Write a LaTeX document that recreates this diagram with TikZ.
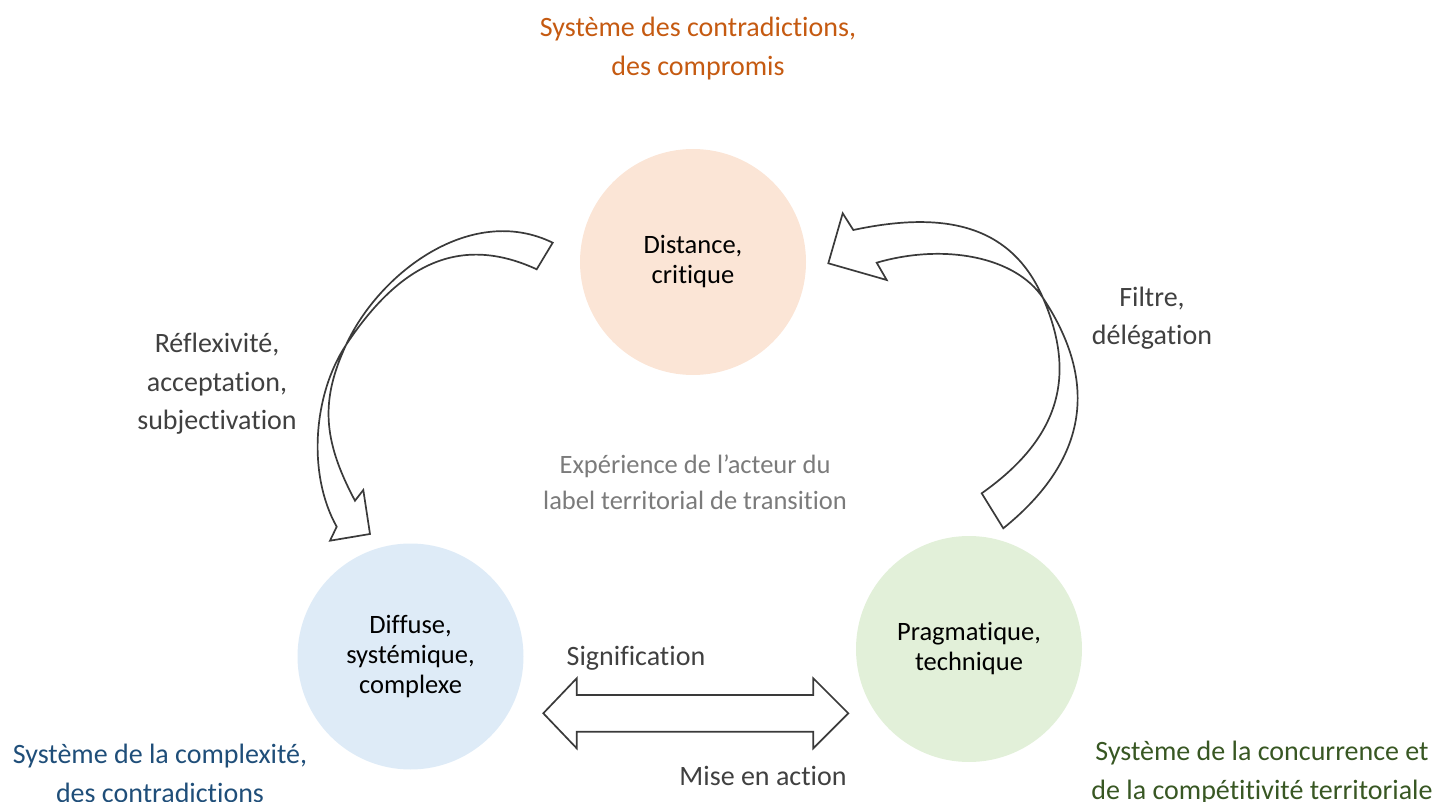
\documentclass[tikz,border=0pt]{standalone}
\usepackage{fontspec}
\setmainfont{Carlito}[Ligatures=NoCommon]
\definecolor{fillorange}{HTML}{FBE5D6}
\definecolor{fillblue}{HTML}{DEEBF7}
\definecolor{fillgreen}{HTML}{E2F0D9}
\definecolor{txtorange}{HTML}{C55A11}
\definecolor{txtblue}{HTML}{1F4E79}
\definecolor{txtgreen}{HTML}{385723}
\definecolor{txtgray}{HTML}{7B7B7B}
\definecolor{txtdark}{HTML}{404040}
\definecolor{linegray}{HTML}{3A3A3A}
\begin{document}
\begin{tikzpicture}[x=1pt,y=-1pt,
  sysbox/.style={align=center, inner sep=0, font=\fontsize{28}{39}\selectfont},
  lbl/.style={align=center, inner sep=0, text=txtdark, font=\fontsize{28}{38.5}\selectfont},
  disc/.style={circle, inner sep=0, minimum size=226pt, align=center, text=black, font=\fontsize{26.5}{30}\selectfont},
  blockarrow/.style={draw=linegray, line width=1.7pt, fill=white, line join=miter}]
\useasboundingbox (0,0) rectangle (1438,802);

% circles
\node[disc, fill=fillorange] (dist) at (693,262) {Distance,\\critique};
\node[disc, fill=fillblue] (diff) at (410.5,656.5) {Diffuse,\\systémique,\\complexe};
\node[disc, fill=fillgreen] (prag) at (969,649) {Pragmatique,\\technique};

% system labels
\node[sysbox, text=txtorange] (systop) at (698,49) {Système des contradictions,\\des compromis};
\node[sysbox, text=txtblue] (sysleft) at (160,773) {Système de la complexité,\\des contradictions};
\node[sysbox, text=txtgreen] (sysright) at (1262,773) {Système de la concurrence et\\de la compétitivité territoriale};

% arrow labels
\node[lbl] (refl) at (217,384) {Réflexivité,\\acceptation,\\subjectivation};
\node[lbl] (filt) at (1152,318) {Filtre,\\délégation};
\node[lbl] (sign) at (636,658) {Signification};
\node[lbl] (mise) at (763,776) {Mise en action};
\node[align=center, inner sep=0, text=txtgray, font=\fontsize{26.5}{36}\selectfont] (exp) at (695,482) {Expérience de l’acteur du\\label territorial de transition};

% left curved arrow (Distance -> Diffuse)
\coordinate (lx) at (346,345);
\draw[blockarrow] (552.7,242.7)
  .. controls (471.7,203.1) and (379.6,272.2) .. (lx)
  .. controls (320.8,399.6) and (322.1,439.1) .. (355,500.7)
  -- (363.3,490) -- (370,534) -- (330,540.7) -- (336.7,526.7)
  .. controls (307.3,474.5) and (313,394.8) .. (lx)
  .. controls (395.5,270.3) and (454.8,231.5) .. (536.7,269.3)
  -- cycle;

% right curved arrow (Pragmatique -> Distance)
\coordinate (rx) at (1043,298);
\draw[blockarrow] (828.3,263.3) -- (842.7,213.3) -- (853.3,230)
  .. controls (951.3,209) and (1013,229) .. (rx)
  .. controls (1077,376.2) and (1059.6,438.2) .. (981.7,493.3)
  -- (1003.3,528.3)
  .. controls (1081.3,465.3) and (1103.5,389.3) .. (rx)
  .. controls (1015.5,256.5) and (943.9,243.1) .. (876.7,262.7)
  -- (886.7,280) -- cycle;

% double arrow (Diffuse <-> Pragmatique)
\draw[blockarrow] (543.3,713.3) -- (576.7,678.3) -- (576.7,695) -- (813.3,695) -- (813.3,678.3) -- (848.3,713.3) -- (813.3,748.3) -- (813.3,731.7) -- (576.7,731.7) -- (576.7,748.3) -- cycle;
\end{tikzpicture}
\end{document}
